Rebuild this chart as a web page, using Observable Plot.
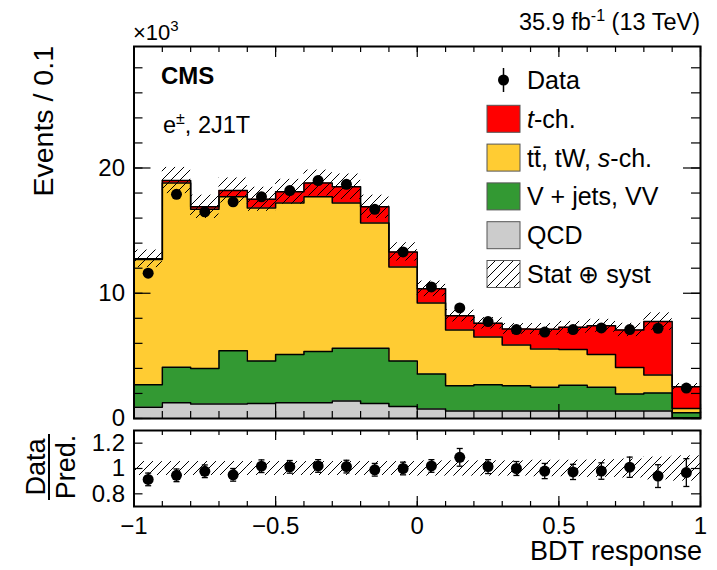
<!DOCTYPE html>
<html><head><meta charset="utf-8">
<script src="https://cdn.jsdelivr.net/npm/d3@7"></script>
<script src="https://cdn.jsdelivr.net/npm/@observablehq/plot@0.6"></script>
<style>
body{margin:0;background:#fff;}
#wrap{position:relative;width:717px;height:570px;overflow:hidden;font-family:"Liberation Sans",Arial,Helvetica,sans-serif;}
#wrap svg{position:absolute;left:0;}
</style></head><body>
<svg width="0" height="0" style="position:absolute">
  <defs>
    <pattern id="hatch" patternUnits="userSpaceOnUse" width="9" height="9">
      <path d="M0,9 L9,0 M-2,2 L2,-2 M7,11 L11,7" stroke="#000" stroke-width="1"/>
    </pattern>
  </defs>
</svg>
<div id="wrap"></div>
<script>
// ---- data (events in units of 10^3) ----
const binEdges = [-1,-0.9,-0.8,-0.7,-0.6,-0.5,-0.4,-0.3,-0.2,-0.1,0,0.1,0.2,0.3,0.4,0.5,0.6,0.7,0.8,0.9,1];
const seriesNames = ["QCD", "V + jets, VV", "tt\u0304, tW, s-ch.", "t-ch."];
const seriesColors = ["#cccccc", "#339933", "#ffcc33", "#ff0000"];
const qcd   = [0.9,1.25,1.15,1.15,1.2,1.25,1.25,1.4,1.2,0.95,0.75,0.6,0.6,0.6,0.6,0.6,0.6,0.6,0.6,0.05];
const vjets = [1.8,2.85,2.85,4.25,3.4,3.85,4.1,4.2,4.4,3.65,2.8,2.02,2.1,2.02,1.9,2.05,1.9,1.35,1.43,0.4];
const ttbar = [10.0,14.7,12.7,12.3,12.2,12.1,12.35,11.6,10.0,7.5,5.68,4.45,3.8,3.25,3.05,2.85,2.6,2.13,1.44,0.35];
const tch   = [0.05,0.2,0.2,0.5,0.7,0.9,1.1,1.3,1.3,1.2,1.12,1.13,1.1,1.28,1.57,1.78,2.3,2.99,4.27,1.74];
const dataObs = [11.6,17.9,16.5,17.3,17.7,18.2,19.0,18.7,16.7,13.3,10.5,8.83,7.74,7.1,6.9,7.1,7.23,7.1,7.2,2.43];
const relUnc  = [0.055,0.055,0.055,0.055,0.055,0.055,0.055,0.055,0.055,0.055,0.06,0.06,0.06,0.06,0.065,0.065,0.07,0.075,0.09,0.1];
const ratio    = [0.914,0.946,0.978,0.95,1.018,1.013,1.02,1.015,0.99,1.0,1.02,1.088,1.015,1.0,0.98,0.973,0.98,1.01,0.94,0.968];
const ratioErr = [0.05,0.05,0.05,0.05,0.05,0.05,0.05,0.05,0.05,0.05,0.05,0.07,0.055,0.055,0.06,0.06,0.065,0.08,0.09,0.11];
const xMajor = [-1,-0.5,0,0.5,1];
const yMajor = [0,10,20];
const yMinor = [0,2,4,6,8,10,12,14,16,18,20,22,24,26,28];
const rMajor = [0.8,1,1.2];

const nb = binEdges.length - 1;
const comps = [qcd, vjets, ttbar, tch];
const rows = [];
for (let s = 0; s < comps.length; s++) {
  for (let i = 0; i <= nb; i++) {
    const b = Math.min(i, nb - 1);
    let lo = 0; for (let k = 0; k < s; k++) lo += comps[k][b];
    rows.push({series: seriesNames[s], x: binEdges[i], y1: lo, y2: lo + comps[s][b]});
  }
}
const bins = d3.range(nb).map(i => {
  const tot = qcd[i] + vjets[i] + ttbar[i] + tch[i];
  return {x1: binEdges[i], x2: binEdges[i+1], xc: (binEdges[i] + binEdges[i+1]) / 2,
          tot, lo: tot * (1 - relUnc[i]), hi: tot * (1 + relUnc[i]),
          data: dataObs[i], r: ratio[i], rlo: ratio[i] - ratioErr[i], rhi: ratio[i] + ratioErr[i],
          blo: 1 - relUnc[i], bhi: 1 + relUnc[i]};
});

const font = '"Liberation Sans", Arial, Helvetica, sans-serif';
const W = 717, mL = 133.5, mR = 17;
const pw = W - mL - mR;

// ---- main panel ----
const H1 = 434, mT1 = 46, mB1 = 16, ph1 = H1 - mT1 - mB1;
const main = Plot.plot({
  width: W, height: H1, marginLeft: mL, marginRight: mR, marginTop: mT1, marginBottom: mB1,
  style: {fontFamily: font, fontSize: "24px", color: "#000", background: "transparent"},
  x: {domain: [-1, 1], axis: null},
  y: {domain: [0, 29.7], ticks: yMajor, tickSize: 0, tickPadding: 9, label: null, tickFormat: d => String(d)},
  color: {domain: seriesNames, range: seriesColors},
  marks: [
    Plot.areaY(rows, {x: "x", y1: "y1", y2: "y2", z: "series", fill: "series", curve: "step-after"}),
    Plot.line(rows, {x: "x", y: "y2", z: "series", curve: "step-after", stroke: "#000", strokeWidth: 1.5}),
    Plot.rect(bins, {x1: "x1", x2: "x2", y1: "lo", y2: "hi", fill: "url(#hatch)"}),
    Plot.dot(bins, {x: "xc", y: "data", r: 5.5, fill: "#000"}),
    Plot.tickX(binEdges, {x: d => d, insetTop: ph1 - 7, stroke: "#000", strokeWidth: 1.2}),
    Plot.tickX(xMajor, {x: d => d, insetTop: ph1 - 14, stroke: "#000", strokeWidth: 1.2}),
    Plot.tickX(binEdges, {x: d => d, insetBottom: ph1 - 6, stroke: "#000", strokeWidth: 1.2}),
    Plot.tickX(xMajor, {x: d => d, insetBottom: ph1 - 11, stroke: "#000", strokeWidth: 1.2}),
    Plot.tickY(yMinor, {y: d => d, insetRight: pw - 9, stroke: "#000", strokeWidth: 1.2}),
    Plot.tickY(yMajor, {y: d => d, insetRight: pw - 17, stroke: "#000", strokeWidth: 1.2}),
    Plot.tickY(yMinor, {y: d => d, insetLeft: pw - 9, stroke: "#000", strokeWidth: 1.2}),
    Plot.tickY(yMajor, {y: d => d, insetLeft: pw - 17, stroke: "#000", strokeWidth: 1.2}),
    Plot.frame({stroke: "#000", strokeWidth: 2})
  ]
});
main.style.top = "0px";

// ---- ratio panel ----
const H2 = 120, mT2 = 5, mB2 = 39, ph2 = H2 - mT2 - mB2;
const capSymbol = {draw(ctx, size) { const w = Math.sqrt(size); ctx.moveTo(-w, 0); ctx.lineTo(w, 0); }};
const ratioPlot = Plot.plot({
  width: W, height: H2, marginLeft: mL, marginRight: mR, marginTop: mT2, marginBottom: mB2,
  style: {fontFamily: font, fontSize: "24px", color: "#000", background: "transparent"},
  x: {domain: [-1, 1], ticks: xMajor, tickSize: 0, tickPadding: 10, label: null,
      tickFormat: d => String(d).replace("-", "\u2212")},
  y: {domain: [0.7, 1.3], ticks: rMajor, tickSize: 0, tickPadding: 9, label: null, tickFormat: d => String(d)},
  marks: [
    Plot.rect(bins, {x1: "x1", x2: "x2", y1: "blo", y2: "bhi", fill: "url(#hatch)"}),
    Plot.ruleX(bins, {x: "xc", y1: "rlo", y2: "rhi", stroke: "#000", strokeWidth: 1.3}),
    Plot.dot(bins, {x: "xc", y: "rlo", r: 1.7, symbol: capSymbol, fill: "none", stroke: "#000", strokeWidth: 1.3}),
    Plot.dot(bins, {x: "xc", y: "rhi", r: 1.7, symbol: capSymbol, fill: "none", stroke: "#000", strokeWidth: 1.3}),
    Plot.dot(bins, {x: "xc", y: "r", r: 5.5, fill: "#000"}),
    Plot.tickX(binEdges, {x: d => d, insetTop: ph2 - 5, stroke: "#000", strokeWidth: 1.2}),
    Plot.tickX(xMajor, {x: d => d, insetTop: ph2 - 10, stroke: "#000", strokeWidth: 1.2}),
    Plot.tickX(binEdges, {x: d => d, insetBottom: ph2 - 5, stroke: "#000", strokeWidth: 1.2}),
    Plot.tickX(xMajor, {x: d => d, insetBottom: ph2 - 10, stroke: "#000", strokeWidth: 1.2}),
    Plot.tickY(rMajor, {y: d => d, insetRight: pw - 9, stroke: "#000", strokeWidth: 1.2}),
    Plot.tickY(rMajor, {y: d => d, insetLeft: pw - 9, stroke: "#000", strokeWidth: 1.2}),
    Plot.frame({stroke: "#000", strokeWidth: 2})
  ]
});
ratioPlot.style.top = "425px";

const wrap = document.getElementById("wrap");
wrap.appendChild(ratioPlot);
wrap.appendChild(main);

// ---- annotations and legend overlay ----
const legendRows = [
  {label: "Data", kind: "data"},
  {label: "t-ch.", kind: "fill", color: seriesColors[3]},
  {label: "tt\u0304, tW, s-ch.", kind: "fill", color: seriesColors[2]},
  {label: "V + jets, VV", kind: "fill", color: seriesColors[1]},
  {label: "QCD", kind: "fill", color: seriesColors[0]},
  {label: "Stat \u2295 syst", kind: "hatch"}
];
const ns = "http://www.w3.org/2000/svg";
const ov = document.createElementNS(ns, "svg");
ov.setAttribute("width", W); ov.setAttribute("height", 570);
ov.style.top = "0px";
ov.style.fontFamily = font;
let html = `
<text x="133" y="40" font-size="22">\u00d710<tspan dy="-9" font-size="15">3</tspan></text>
<text x="700" y="30" font-size="23.5" text-anchor="end">35.9 fb<tspan dy="-9" font-size="16">-1</tspan><tspan dy="9"> (13 TeV)</tspan></text>
<text x="161" y="84" font-size="24" font-weight="bold">CMS</text>
<text x="163" y="133" font-size="23.5">e<tspan dy="-9" font-size="16">\u00b1</tspan><tspan dy="9">, 2J1T</tspan></text>
<text transform="translate(53,46) rotate(-90)" font-size="28.5" text-anchor="end">Events / 0.1</text>
<text transform="translate(45,467) rotate(-90)" font-size="27" text-anchor="middle">Data</text>
<line x1="49" x2="49" y1="434" y2="500" stroke="#000" stroke-width="2"/>
<text transform="translate(75,467) rotate(-90)" font-size="27" text-anchor="middle">Pred.</text>
<text x="702" y="560" font-size="27" text-anchor="end">BDT response</text>
`;
const ly0 = 80, lstep = 38.8;
legendRows.forEach((d, i) => {
  const cy = ly0 + i * lstep;
  if (d.kind === "data") {
    html += `<line x1="503.5" x2="503.5" y1="${cy - 12}" y2="${cy + 12}" stroke="#000" stroke-width="1.5"/>`;
    html += `<circle cx="503.5" cy="${cy}" r="5.5" fill="#000"/>`;
  } else {
    const fill = d.kind === "hatch" ? "url(#hatch)" : d.color;
    html += `<rect x="487" y="${cy - 13.5}" width="33" height="27" fill="${fill}" stroke="#555" stroke-width="1"/>`;
  }
  let label = d.label;
  if (label === "t-ch.") label = `<tspan font-style="italic">t</tspan>-ch.`;
  else if (label.startsWith("tt")) label = `tt\u0304, tW, <tspan font-style="italic">s</tspan>-ch.`;
  html += `<text x="527" y="${cy + 9}" font-size="25">${label}</text>`;
});
ov.innerHTML = html;
wrap.appendChild(ov);
</script>
</body></html>
